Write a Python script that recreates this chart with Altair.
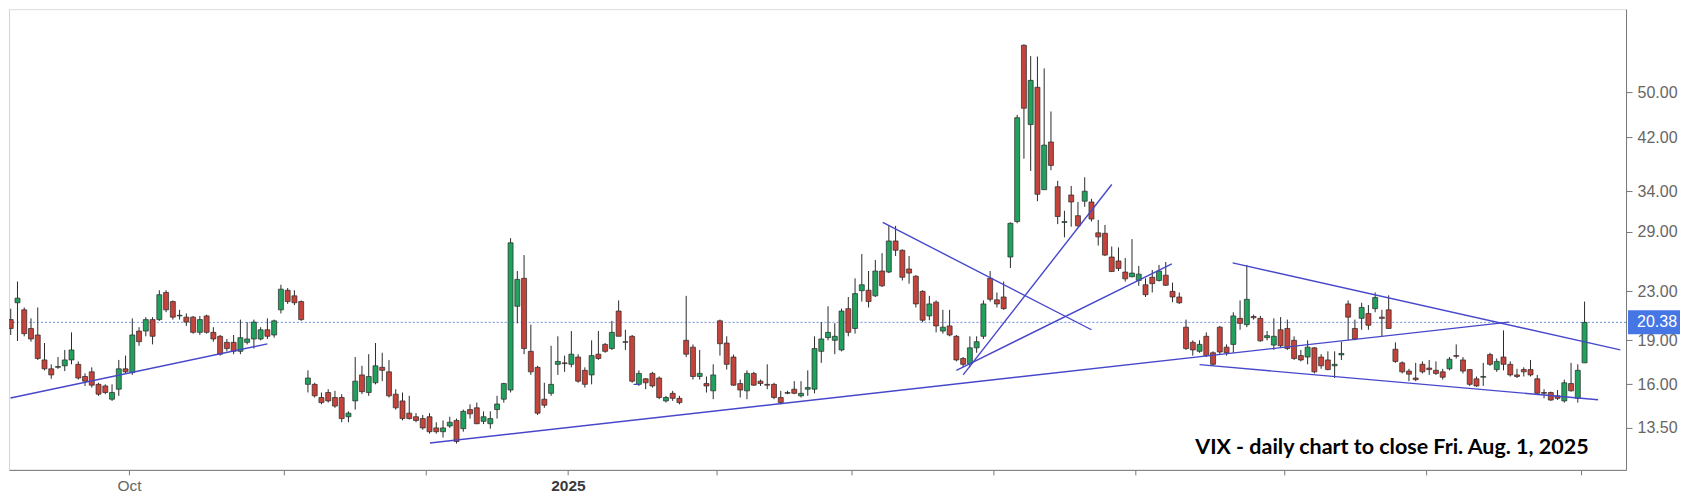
import altair as alt
import pandas as pd
import math

# ---------------- data ----------------
# one candle per trading session shown on the chart, Sep 5 2024 .. Aug 1 2025
opens = [
    20.6, 22.0, 21.4, 19.9, 19.4, 17.6, 17.0, 17.1, 17.2, 17.6,
    17.3, 16.5, 16.8, 16.0, 15.9, 15.1, 15.7, 17.0, 16.75, 19.7,
    19.7, 20.6, 20.6, 22.9, 22.1, 20.9, 20.8, 20.8, 19.6, 20.9,
    19.6, 19.3, 18.85, 18.85, 18.2, 18.85, 19.1, 19.1, 19.8, 19.4,
    21.4, 23.1, 22.6, 22.1, 16.0, 16.0, 15.2, 15.5, 15.2, 15.2,
    14.1, 15.0, 16.6, 15.5, 16.1, 17.1, 16.8, 15.4, 15.0, 14.3,
    14.1, 14.0, 14.1, 13.5, 13.3, 13.6, 13.9, 13.46, 14.5, 14.6,
    13.85, 13.72, 14.5, 15.1, 15.65, 21.7, 24.2, 18.2, 17.1, 15.1,
    15.45, 17.3, 17.4, 17.3, 17.8, 16.9, 16.6, 18.0, 18.7, 18.4,
    21.3, 18.9, 19.3, 16.0, 16.35, 16.7, 16.4, 15.0, 15.45, 15.15,
    19.0, 18.5, 16.5, 16.05, 15.6, 20.5, 18.8, 17.8, 16.05, 15.6,
    16.7, 16.2, 16.0, 16.0, 15.2, 15.5, 15.7, 15.3, 15.7, 15.7,
    18.2, 19.2, 19.0, 18.3, 21.5, 19.9, 23.06, 23.1, 22.6, 24.9,
    24.8, 28.0, 27.0, 25.1, 24.4, 23.0, 20.9, 22.05, 19.7, 20.1,
    19.3, 17.7, 17.35, 18.45, 19.3, 24.2, 22.25, 22.5, 26.3, 30.2,
    60.1, 44.1, 51.0, 34.2, 41.2, 34.6, 30.1, 33.5, 30.9, 32.7,
    32.6, 28.9, 28.85, 26.3, 25.9, 24.8, 24.35, 24.0, 23.6, 24.3,
    24.0, 24.5, 23.0, 22.5, 20.0, 18.85, 18.2, 19.3, 18.1, 20.0,
    18.5, 18.7, 20.7, 20.2, 20.85, 20.7, 19.2, 18.65, 19.8, 19.9,
    19.0, 17.9, 17.8, 18.45, 17.8, 17.6, 17.2, 17.95, 21.9, 19.9,
    20.7, 21.1, 21.5, 20.8, 21.4, 18.35, 17.4, 16.85, 16.4, 17.3,
    17.05, 16.9, 16.8, 17.0, 17.9, 17.6, 16.95, 16.35, 16.45, 17.97,
    16.95, 17.8, 17.3, 16.6, 16.95, 16.95, 16.35, 15.5, 15.5, 15.3,
    15.0, 16.05, 15.15, 17.4,
]
highs = [
    21.5, 23.9, 21.6, 20.7, 21.6, 18.8, 17.3, 17.8, 18.3, 19.6,
    17.5, 16.7, 17.1, 16.1, 16.0, 16.0, 17.6, 17.9, 20.7, 20.0,
    20.8, 20.8, 23.1, 23.1, 22.2, 21.4, 21.1, 20.9, 20.9, 21.0,
    20.0, 19.4, 19.1, 19.4, 20.6, 20.4, 20.6, 20.0, 20.7, 20.6,
    23.6, 23.3, 23.1, 22.2, 16.9, 16.1, 15.5, 15.7, 15.6, 15.4,
    14.4, 17.8, 17.2, 18.0, 18.8, 18.1, 17.6, 15.7, 15.5, 15.3,
    14.3, 14.2, 14.3, 13.8, 13.9, 14.1, 14.0, 14.5, 14.8, 14.9,
    14.4, 14.4, 15.3, 16.1, 28.3, 24.9, 26.5, 20.2, 17.2, 16.1,
    18.6, 19.3, 17.9, 19.7, 18.0, 17.1, 19.0, 19.7, 18.8, 20.5,
    22.2, 19.8, 19.4, 16.9, 16.4, 16.8, 16.5, 15.3, 15.6, 15.3,
    22.6, 18.7, 18.3, 16.5, 17.3, 20.6, 19.3, 17.97, 16.3, 16.9,
    16.8, 16.3, 17.3, 16.1, 15.6, 15.6, 16.2, 16.2, 16.9, 19.3,
    20.4, 21.7, 20.3, 21.5, 22.5, 24.2, 26.6, 24.9, 26.0, 26.7,
    29.7, 29.7, 27.1, 26.4, 24.5, 23.1, 22.6, 22.2, 21.4, 21.4,
    19.4, 17.8, 19.3, 19.3, 22.2, 24.9, 22.9, 23.9, 30.1, 45.8,
    60.3, 57.6, 57.5, 54.9, 46.4, 35.4, 31.5, 34.7, 32.6, 35.9,
    33.0, 30.4, 29.8, 27.4, 27.3, 26.2, 28.2, 25.4, 24.2, 25.0,
    25.5, 25.8, 23.8, 22.9, 20.6, 19.0, 19.0, 19.6, 18.2, 20.1,
    18.7, 21.2, 22.2, 25.5, 21.0, 20.9, 19.7, 20.7, 20.8, 20.6,
    19.3, 18.3, 19.0, 18.5, 18.0, 18.2, 18.2, 18.9, 22.2, 20.6,
    22.0, 21.8, 22.9, 21.4, 22.65, 18.85, 17.5, 17.0, 17.4, 17.5,
    17.6, 17.5, 17.0, 17.8, 18.7, 17.8, 16.95, 16.5, 17.4, 18.1,
    17.7, 19.75, 17.5, 17.0, 17.1, 17.6, 16.6, 15.7, 15.55, 15.65,
    16.3, 17.4, 17.3, 22.1,
]
lows = [
    19.4, 18.95, 19.3, 18.9, 17.6, 16.9, 16.35, 17.0, 16.85, 17.3,
    16.3, 15.9, 15.8, 15.3, 15.4, 15.0, 15.3, 16.7, 16.6, 18.6,
    19.3, 18.7, 20.5, 21.2, 20.6, 20.6, 20.1, 19.5, 19.4, 19.5,
    18.9, 17.9, 18.2, 18.0, 18.0, 18.7, 18.4, 19.0, 19.1, 19.2,
    21.1, 21.9, 21.8, 20.5, 15.5, 15.2, 14.8, 14.9, 14.6, 13.8,
    13.8, 14.5, 15.4, 15.3, 16.0, 16.2, 15.2, 14.5, 13.9, 13.95,
    13.8, 13.4, 13.2, 13.2, 13.0, 13.5, 12.7, 13.3, 14.0, 13.7,
    13.7, 13.46, 14.0, 14.9, 15.5, 20.3, 18.0, 16.6, 14.2, 14.6,
    15.3, 16.6, 16.8, 17.1, 16.1, 15.8, 16.0, 17.6, 18.1, 18.3,
    19.3, 18.3, 16.1, 15.9, 15.7, 15.8, 15.1, 14.9, 15.0, 14.8,
    17.8, 16.3, 16.3, 15.5, 15.1, 17.9, 16.95, 15.9, 15.2, 15.1,
    15.9, 15.9, 15.7, 15.1, 14.8, 15.4, 15.4, 15.2, 15.3, 15.45,
    17.4, 19.0, 18.0, 18.2, 19.3, 19.5, 22.1, 21.6, 22.5, 23.4,
    24.7, 26.4, 24.0, 23.7, 21.6, 20.4, 20.55, 19.6, 19.5, 19.3,
    17.5, 17.1, 17.1, 18.1, 19.1, 22.1, 21.6, 21.4, 25.2, 30.0,
    38.6, 36.8, 32.7, 34.2, 36.9, 29.9, 28.4, 29.6, 29.6, 32.0,
    30.2, 27.5, 26.4, 24.8, 24.9, 23.9, 24.3, 23.5, 22.5, 22.9,
    23.9, 23.5, 22.05, 21.9, 18.3, 17.9, 18.1, 17.8, 17.2, 18.0,
    17.9, 18.1, 19.8, 20.0, 20.6, 18.9, 19.0, 18.3, 18.5, 18.3,
    17.6, 17.5, 17.3, 16.7, 17.0, 16.9, 16.4, 17.6, 19.0, 19.0,
    19.8, 19.8, 21.2, 19.3, 19.9, 17.4, 16.7, 16.2, 16.2, 16.7,
    16.6, 16.6, 16.3, 16.9, 17.7, 16.7, 15.9, 15.85, 15.9, 17.2,
    16.8, 16.9, 16.5, 16.4, 16.5, 16.5, 15.4, 15.15, 15.0, 15.05,
    14.9, 15.55, 14.9, 17.4,
]
closes = [
    19.9, 22.4, 19.5, 19.1, 17.7, 17.0, 16.6, 17.15, 17.6, 18.3,
    16.4, 16.2, 15.95, 15.4, 15.5, 15.5, 17.0, 16.8, 19.4, 18.9,
    20.6, 19.3, 22.7, 21.4, 20.8, 20.95, 20.4, 19.6, 20.6, 19.6,
    19.1, 18.0, 18.4, 18.2, 19.2, 19.1, 20.4, 19.8, 19.3, 20.5,
    23.2, 22.1, 22.0, 20.6, 16.4, 15.3, 14.9, 15.0, 14.7, 14.0,
    14.3, 16.2, 15.55, 16.5, 17.2, 16.9, 15.3, 14.6, 14.0, 14.0,
    13.9, 13.5, 13.3, 13.3, 13.5, 13.8, 12.8, 14.4, 14.26, 13.72,
    14.1, 14.0, 14.82, 16.05, 27.8, 24.1, 18.4, 16.8, 14.3, 14.75,
    16.0, 17.5, 17.35, 18.0, 16.2, 16.0, 17.9, 17.7, 18.2, 19.6,
    19.3, 18.85, 16.2, 16.7, 16.1, 15.9, 15.2, 15.2, 15.15, 14.9,
    18.0, 16.5, 16.7, 15.9, 16.6, 18.75, 17.3, 15.95, 15.65, 16.7,
    15.95, 16.05, 15.95, 15.2, 14.9, 15.45, 15.45, 15.45, 15.8, 18.4,
    19.1, 19.6, 19.3, 21.3, 19.6, 22.8, 23.6, 22.1, 24.9, 23.5,
    28.0, 27.0, 24.3, 24.7, 21.9, 20.55, 21.9, 20.1, 20.0, 19.4,
    17.6, 17.3, 18.45, 18.9, 21.9, 22.3, 21.9, 21.5, 30.0, 45.3,
    47.0, 52.4, 33.6, 40.7, 37.6, 30.8, 30.2, 32.6, 29.7, 34.0,
    30.5, 28.45, 26.5, 24.85, 25.15, 24.15, 24.7, 24.6, 22.7, 23.7,
    24.9, 23.55, 22.5, 22.0, 18.4, 18.3, 18.7, 17.9, 17.3, 18.15,
    18.1, 20.9, 20.3, 22.3, 20.75, 18.96, 19.35, 19.3, 18.6, 18.4,
    17.7, 17.6, 18.5, 16.8, 17.2, 16.95, 17.3, 18.05, 20.8, 19.1,
    21.6, 20.15, 22.45, 20.7, 19.9, 17.5, 16.8, 16.65, 16.3, 16.8,
    16.95, 16.7, 16.45, 17.65, 17.85, 16.85, 16.0, 15.9, 16.5, 17.3,
    17.5, 17.3, 16.6, 16.5, 16.8, 16.6, 15.45, 15.45, 15.05, 15.15,
    16.1, 15.6, 16.9, 20.38,
]

# month boundaries on the session axis and their labels
month_ticks = [17.5, 40.5, 61.5, 82.5, 104.5, 124.5, 145.5, 166.5, 188.5, 209.5, 232.5]
month_labels = ["Oct", "", "", "2025", "", "", "", "", "", "", ""]
bold_label = "2025"

# price axis ticks
y_ticks = [13.5, 16, 19, 23, 29, 34, 42, 50, 70]

# hand-drawn trendlines: (session, price) start and end points
trend_x0 = [-0.03, 62.06, 129.1, 141.0, 140.0, 180.9, 176.0, 92.2]
trend_y0 = [15.17, 12.73, 30.1, 16.6, 16.9, 25.7, 17.28, 16.0]
trend_x1 = [38.0, 221.8, 160.0, 163.0, 171.9, 238.3, 235.0, 93.0]
trend_y1 = [18.74, 20.4, 19.8, 34.9, 25.6, 18.3, 15.07, 16.0]

last_close = 20.38
note_text = "VIX - daily chart to close Fri. Aug. 1, 2025"
note_pos = (233.6, 12.2)

n = len(closes)
assert len(opens) == n and len(highs) == n and len(lows) == n, (len(opens), len(highs), len(lows), n)

# ---------------- layout / style ----------------
W, H = 1618, 461
X_DOMAIN = [0.485, 238.4]
Y_DOMAIN = [11.46, 69.19]
GREEN = "#22a05e"
RED = "#c4433a"
OUTLINE = "#2a2a2a"
TREND = "#4747cc"
AXIS_GRAY = "#777777"
LABEL_GRAY = "#666666"

candles = pd.DataFrame({"k": list(range(n)), "open": opens, "high": highs, "low": lows, "close": closes})
trends = pd.DataFrame({"x0": trend_x0, "y0": trend_y0, "x1": trend_x1, "y1": trend_y1})

label_expr = "''"
for t, lab in reversed(list(zip(month_ticks, month_labels))):
    if lab:
        label_expr = f"datum.value == {t} ? '{lab}' : ({label_expr})"
bold_tick = month_ticks[month_labels.index(bold_label)]

x_axis = alt.Axis(
    values=month_ticks, labelExpr=label_expr, grid=False, tickSize=5,
    domainColor=AXIS_GRAY, tickColor=AXIS_GRAY, labelFontSize=15.5, labelFont="Liberation Sans",
    labelColor={"condition": {"test": f"datum.value == {bold_tick}", "value": "#3a3a3a"}, "value": LABEL_GRAY},
    labelFontWeight={"condition": {"test": f"datum.value == {bold_tick}", "value": "bold"}, "value": "normal"},
    labelPadding=4, labelOverlap=False, labelFlush=False, title=None,
)
y_axis = alt.Axis(
    orient="right", values=y_ticks, format=".2f", grid=False, tickSize=6, labelPadding=5,
    domainColor=AXIS_GRAY, tickColor=AXIS_GRAY, labelFontSize=16, labelFont="Liberation Sans",
    labelColor=LABEL_GRAY, title=None, labelOverlap=False,
)


def X(field):
    return alt.X(f"{field}:Q", scale=alt.Scale(domain=X_DOMAIN, nice=False, zero=False), axis=x_axis)


def Y(field):
    return alt.Y(f"{field}:Q", scale=alt.Scale(type="log", domain=Y_DOMAIN, nice=False, zero=False), axis=y_axis)


base = alt.Chart(candles)

# faint left border of the chart panel
left_edge = alt.Chart(pd.DataFrame({"v": [Y_DOMAIN[0]], "v2": [Y_DOMAIN[1]]})).mark_rule(
    color="#d6d6d6", strokeWidth=1
).encode(x=alt.value(0.5), y=Y("v"), y2="v2")

dotted = alt.Chart(pd.DataFrame({"v": [last_close]})).mark_rule(
    color="#6a8ee0", strokeWidth=1, strokeDash=[2, 2]
).encode(y=Y("v"))

wicks = base.mark_rule(color=OUTLINE, strokeWidth=1, clip=True).encode(
    x=X("k"), y=Y("low"), y2="high"
)

bodies = base.mark_bar(width=5, stroke=OUTLINE, strokeWidth=0.7, clip=True).encode(
    x=X("k"), y=Y("open"), y2="close",
    color=alt.condition("datum.close >= datum.open", alt.value(GREEN), alt.value(RED)),
)

lines = alt.Chart(trends).mark_rule(color=TREND, strokeWidth=1.4, clip=True).encode(
    x=X("x0"), y=Y("y0"), x2="x1", y2="y1"
)

note = alt.Chart(pd.DataFrame({"k": [note_pos[0]], "v": [note_pos[1]], "t": [note_text]})).mark_text(
    align="right", baseline="alphabetic", font="Lato", fontSize=21.5, fontWeight="bold", color="#000000"
).encode(x=X("k"), y=Y("v"), text="t:N")

half = math.exp(12 / 256.4)
box = alt.Chart(pd.DataFrame({"top": [last_close * half], "bottom": [last_close / half]})).mark_rect(
    color="#4676e4", clip=False
).encode(y=Y("top"), y2="bottom", x=alt.value(W + 2), x2=alt.value(W + 54))

box_text = alt.Chart(pd.DataFrame({"v": [last_close], "t": [f"{last_close:.2f}"]})).mark_text(
    align="left", baseline="middle", color="white", fontSize=16, font="Liberation Sans", clip=False
).encode(y=Y("v"), x=alt.value(W + 11), text="t:N")

chart = alt.layer(left_edge, dotted, wicks, bodies, lines, note, box, box_text).properties(
    width=W, height=H, padding=0
).configure_view(stroke=None).configure(background="white")

chart.save("out.html", embed_options={"renderer": "svg", "actions": False})
